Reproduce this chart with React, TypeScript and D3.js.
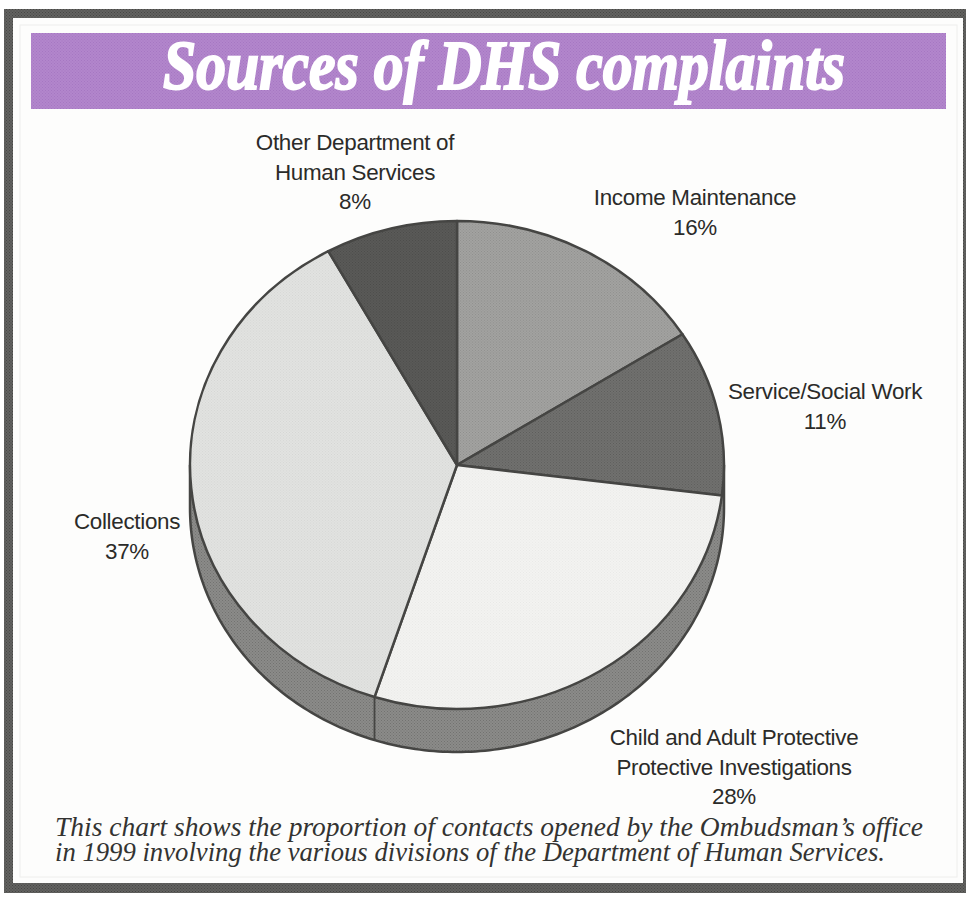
import React from "react";
import * as d3 from "d3";

// Complaint share by division, clockwise from twelve o'clock.
const divisions = ["Income Maintenance", "Service/Social Work", "Child and Adult Protective", "Collections", "Other Department of Human Services"];
const shares = [16, 11, 28, 37, 8];
const sliceFills = ["#a3a3a1", "#71716f", "#f3f3f1", "#e2e3e1", "#5a5a58"];
const sliceWeaves = ["#8d8d8b", "#5c5c5a", "#e8e8e6", "#d4d5d3", "#4b4b49"];

const labelLines = [
  ["Income Maintenance"],
  ["Service/Social Work"],
  ["Child and Adult Protective", "Protective Investigations"],
  ["Collections"],
  ["Other Department of", "Human Services"],
];
const labelAnchors = [
  { x: 695, y: 205 },
  { x: 825, y: 399 },
  { x: 734, y: 745 },
  { x: 127, y: 529 },
  { x: 355, y: 150 },
];

const titleText = "Sources of DHS complaints";
const captionLines = [
  "This chart shows the proportion of contacts opened by the Ombudsman\u2019s office",
  "in 1999 involving the various divisions of the Department of Human Services.",
];

const WIDTH = 966;
const HEIGHT = 899;
const CX = 457;
const CY = 465;
const RX = 267;
const RY = 244;
const DEPTH = 43;
const INK = "#454543";

const pieLayout = d3.pie<number>().sort(null)(shares);
const arcPath = d3.arc<d3.PieArcDatum<number>>().innerRadius(0).outerRadius(RX);

const rimPoint = (t: number) => ({
  x: CX + RX * Math.sin(t),
  y: CY - RY * Math.cos(t),
});

const rimAngles = d3.range(Math.PI / 2, (3 * Math.PI) / 2 + 0.001, Math.PI / 180);
const rimWall = d3
  .area<number>()
  .x((t) => rimPoint(t).x)
  .y0((t) => rimPoint(t).y)
  .y1((t) => rimPoint(t).y + DEPTH);

const rimOuter = d3
  .line<number>()
  .x((t) => rimPoint(t).x)
  .y((t) => rimPoint(t).y + DEPTH);

const weave = (id: string, base: string, mark: string) => (
  <pattern key={id} id={id} width={3} height={3} patternUnits="userSpaceOnUse">
    <rect width={3} height={3} fill={base} />
    <rect width={1} height={1} fill={mark} />
    <rect x={1.5} y={1.5} width={1} height={1} fill={mark} />
  </pattern>
);

export default function App() {
  const sans = "'Liberation Sans', Arial, sans-serif";
  const serif = "'Liberation Serif', 'Times New Roman', serif";
  const seam = rimPoint(pieLayout[3].startAngle);
  const rightEdge = rimPoint(Math.PI / 2);
  const leftEdge = rimPoint((3 * Math.PI) / 2);

  return (
    <svg
      width={WIDTH}
      height={HEIGHT}
      viewBox={`0 0 ${WIDTH} ${HEIGHT}`}
      style={{ position: "absolute", left: 0, top: 0, display: "block" }}
    >
      <defs>
        {sliceFills.map((f, i) => weave(`slice-${i}`, f, sliceWeaves[i]))}
        {weave("wall", "#8b8b89", "#727270")}
        {weave("frame", "#626260", "#474745")}
        {weave("banner", "#b286cc", "#a677c2")}
      </defs>

      <rect width={WIDTH} height={HEIGHT} fill="#ffffff" />
      <rect x={4} y={9} width={962} height={884} fill="url(#frame)" />
      <rect x={13} y={18} width={950} height={865} fill="#fdfdfc" />
      <rect x={20} y={25} width={937} height={852} fill="none" stroke="#eeeeec" strokeWidth={1} />

      <rect x={31} y={33} width={915} height={76} fill="url(#banner)" />
      <text
        x={504}
        y={89}
        textAnchor="middle"
        textLength={682}
        lengthAdjust="spacingAndGlyphs"
        fontFamily={serif}
        fontSize={70}
        fontWeight={700}
        fontStyle="italic"
        fill="#ffffff"
        stroke="#ffffff"
        strokeWidth={2}
      >
        {titleText}
      </text>

      {/* Extruded rim under the front half of the pie */}
      <path d={rimWall(rimAngles) ?? ""} fill="url(#wall)" />
      <path d={rimOuter(rimAngles) ?? ""} fill="none" stroke={INK} strokeWidth={2.5} />
      <line x1={rightEdge.x} y1={rightEdge.y} x2={rightEdge.x} y2={rightEdge.y + DEPTH} stroke={INK} strokeWidth={2.5} />
      <line x1={leftEdge.x} y1={leftEdge.y} x2={leftEdge.x} y2={leftEdge.y + DEPTH} stroke={INK} strokeWidth={2.5} />
      <line x1={seam.x} y1={seam.y} x2={seam.x} y2={seam.y + DEPTH} stroke={INK} strokeWidth={1.8} />

      {/* Top face: circular arcs flattened into an ellipse */}
      <g transform={`translate(${CX},${CY}) scale(1,${RY / RX})`}>
        {pieLayout.map((d, i) => (
          <path
            key={divisions[i]}
            d={arcPath(d) ?? ""}
            fill={`url(#slice-${i})`}
            stroke={INK}
            strokeWidth={2.5}
            strokeLinejoin="round"
            vectorEffect="non-scaling-stroke"
          />
        ))}
      </g>

      <g fontFamily={sans} fontSize={22.4} fill="#2b2b29" textAnchor="middle" letterSpacing={-0.3}>
        {labelLines.map((lines, i) => (
          <text key={divisions[i]} x={labelAnchors[i].x} y={labelAnchors[i].y}>
            {lines.map((line, j) => (
              <tspan key={line} x={labelAnchors[i].x} dy={j === 0 ? 0 : 29.5}>
                {line}
              </tspan>
            ))}
            <tspan x={labelAnchors[i].x} dy={29.5}>{`${shares[i]}%`}</tspan>
          </text>
        ))}
      </g>

      <g fontFamily={serif} fontStyle="italic" fontSize={26.5} fill="#333331">
        <text x={55} y={836} textLength={868} lengthAdjust="spacingAndGlyphs">
          {captionLines[0]}
        </text>
        <text x={55} y={861} textLength={830} lengthAdjust="spacingAndGlyphs">
          {captionLines[1]}
        </text>
      </g>
    </svg>
  );
}
